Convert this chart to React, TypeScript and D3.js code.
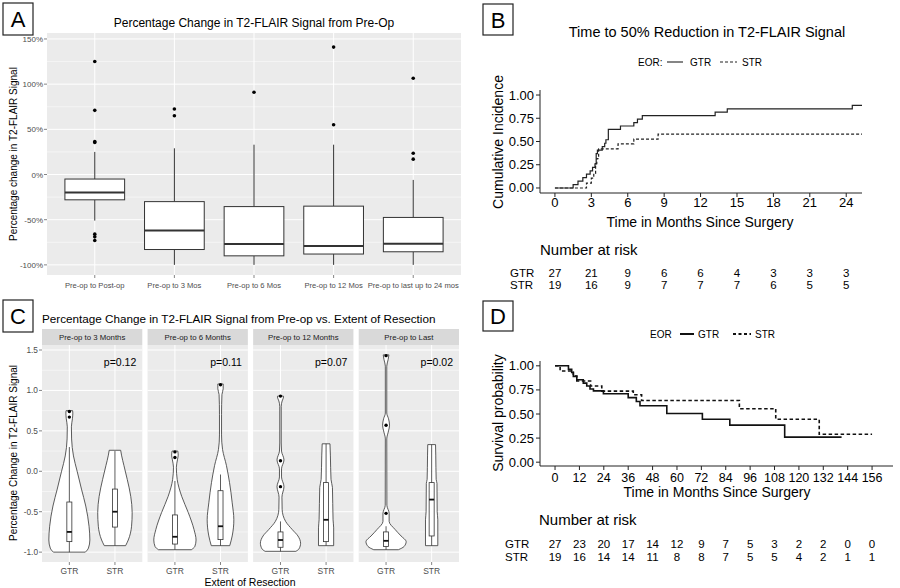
import React from 'react';
import * as d3 from 'd3';

const FONT = '"Liberation Sans", Arial, sans-serif';

// ---- Panel A: boxplots of % change
const catsA = ['Pre-op to Post-op', 'Pre-op to 3 Mos', 'Pre-op to 6 Mos', 'Pre-op to 12 Mos', 'Pre-op to last up to 24 mos'];
const loA = [-51, -100, -100, -100, -100];
const q1A = [-28, -83, -90, -88, -85.5];
const medA = [-20, -62, -77, -79, -76.5];
const q3A = [-5, -30, -35.5, -35, -47.5];
const hiA = [25, 29, 33, 33, -6];
const outA = [[125, 71, 36.5, 35.5, -66, -69, -73], [72.5, 65], [91], [141, 55], [106.5, 23.5, 17]];
const ticksA = [-100, -50, 0, 50, 100, 150];
const minorA = [-75, -25, 25, 75, 125];

// ---- Panel B: cumulative incidence
const gtrTimeB = [0, 1.5, 1.9, 2.3, 2.6, 2.9, 3.1, 3.3, 3.4, 3.5, 3.9, 4.1, 4.2, 4.4, 5.4, 6.5, 6.8, 7.2, 13.2, 14.2, 24.5, 25.3];
const gtrCifB = [0, 0.037, 0.074, 0.111, 0.148, 0.185, 0.222, 0.259, 0.37, 0.407, 0.444, 0.481, 0.519, 0.63, 0.667, 0.704, 0.741, 0.778, 0.815, 0.852, 0.889, 0.889];
const strTimeB = [0, 2.6, 3.0, 3.2, 3.35, 3.45, 3.6, 5.2, 6.5, 8.5, 25.3];
const strCifB = [0, 0.053, 0.105, 0.158, 0.263, 0.316, 0.421, 0.474, 0.526, 0.579, 0.579];
const ticksBx = [0, 3, 6, 9, 12, 15, 18, 21, 24];
const ticksBy = [0, 0.25, 0.5, 0.75, 1];
const riskGtrB = [27, 21, 9, 6, 6, 4, 3, 3, 3];
const riskStrB = [19, 16, 9, 7, 7, 7, 6, 5, 5];

// ---- Panel C: violins by extent of resection
const facetsC = ['Pre-op to 3 Months', 'Pre-op to 6 Months', 'Pre-op to 12 Months', 'Pre-op to Last'];
const groupsC = ['GTR', 'STR'];
const pValsC = ['p=0.12', 'p=0.11', 'p=0.07', 'p=0.02'];
// [value, relative density]
const violinC = [
  [
    [[-1.0, 0.78], [-0.95, 0.93], [-0.85, 1.0], [-0.68, 0.96], [-0.43, 0.8], [-0.22, 0.59], [0.0, 0.38], [0.19, 0.2], [0.4, 0.11], [0.55, 0.1], [0.65, 0.15], [0.72, 0.17], [0.75, 0.16]],
    [[-0.92, 0.52], [-0.85, 0.65], [-0.68, 0.81], [-0.51, 0.84], [-0.31, 0.77], [-0.1, 0.6], [0.07, 0.44], [0.2, 0.32], [0.26, 0.28]],
  ],
  [
    [[-0.97, 0.8], [-0.93, 0.97], [-0.85, 1.03], [-0.72, 0.93], [-0.51, 0.65], [-0.31, 0.33], [-0.1, 0.11], [0.05, 0.07], [0.15, 0.13], [0.2, 0.16], [0.25, 0.14]],
    [[-0.92, 0.45], [-0.8, 0.57], [-0.6, 0.65], [-0.39, 0.57], [-0.14, 0.44], [0.07, 0.29], [0.27, 0.1], [0.45, 0.05], [0.7, 0.05], [0.95, 0.07], [1.02, 0.13], [1.08, 0.13]],
  ],
  [
    [[-0.99, 0.75], [-0.96, 0.9], [-0.89, 0.98], [-0.8, 0.85], [-0.72, 0.57], [-0.62, 0.25], [-0.47, 0.08], [-0.32, 0.07], [-0.19, 0.17], [-0.07, 0.05], [0.03, 0.05], [0.14, 0.17], [0.25, 0.05], [0.35, 0.035], [0.8, 0.035], [0.87, 0.08], [0.92, 0.15], [0.93, 0.14]],
    [[-0.92, 0.37], [-0.7, 0.37], [-0.6, 0.34], [-0.2, 0.31], [-0.1, 0.24], [0.2, 0.21], [0.34, 0.19]],
  ],
  [
    [[-0.97, 0.6], [-0.93, 0.88], [-0.87, 0.98], [-0.8, 0.73], [-0.72, 0.44], [-0.62, 0.15], [-0.52, 0.15], [-0.42, 0.04], [0.4, 0.035], [0.5, 0.12], [0.57, 0.17], [0.65, 0.12], [0.72, 0.035], [1.3, 0.035], [1.38, 0.1], [1.44, 0.14]],
    [[-0.92, 0.3], [-0.6, 0.3], [-0.5, 0.27], [-0.15, 0.26], [-0.1, 0.22], [0.2, 0.2], [0.33, 0.19]],
  ],
];
const loC = [[-1.0, -0.92], [-0.97, -0.92], [-0.99, -0.92], [-0.97, -0.92]];
const q1C = [[-0.87, -0.69], [-0.9, -0.845], [-0.94, -0.87], [-0.93, -0.8]];
const medC = [[-0.75, -0.5], [-0.81, -0.68], [-0.85, -0.6], [-0.86, -0.35]];
const q3C = [[-0.38, -0.22], [-0.54, -0.24], [-0.75, -0.14], [-0.75, -0.14]];
const hiC = [[0.3, 0.25], [-0.12, -0.04], [-0.62, 0.34], [-0.68, 0.33]];
const outC = [[[0.74, 0.67], []], [[0.24, 0.17], [1.07]], [[0.93, 0.13, -0.19], []], [[1.43, 0.57, -0.52], []]];
const ticksC = [-1.0, -0.5, 0.0, 0.5, 1.0, 1.5];
const minorC = [-0.75, -0.25, 0.25, 0.75, 1.25];

// ---- Panel D: overall survival
const gtrTimeD = [0, 6.6, 8.2, 9.0, 10.7, 13.9, 15.6, 17.2, 18.9, 23.8, 36, 40, 41.8, 55, 72.5, 86, 113, 141];
const gtrSurvD = [1, 0.963, 0.93, 0.89, 0.856, 0.82, 0.79, 0.76, 0.74, 0.71, 0.67, 0.63, 0.585, 0.505, 0.445, 0.385, 0.26, 0.26];
const strTimeD = [0, 2.5, 9.0, 10.7, 17.5, 23, 38.5, 42.6, 90.7, 108.6, 130, 156];
const strSurvD = [1, 0.947, 0.895, 0.842, 0.79, 0.737, 0.7, 0.64, 0.555, 0.445, 0.29, 0.29];
const ticksDx = [0, 12, 24, 36, 48, 60, 72, 84, 96, 108, 120, 132, 144, 156];
const ticksDy = [0, 0.25, 0.5, 0.75, 1];
const riskGtrD = [27, 23, 20, 17, 14, 12, 9, 7, 5, 3, 2, 2, 0, 0];
const riskStrD = [19, 16, 14, 14, 11, 8, 8, 7, 5, 5, 4, 2, 1, 1];

const LabelBox = ({ x, y, w, h, t }: { x: number; y: number; w: number; h: number; t: string }) => (
  <g>
    <rect x={x} y={y} width={w} height={h} fill="#fff" stroke="#222" strokeWidth={1.2} />
    <text x={x + w / 2} y={y + h / 2 + 8} textAnchor="middle" fontSize={22}>{t}</text>
  </g>
);

const PanelA = () => {
  const x = d3.scalePoint().domain(catsA).range([47, 461]).padding(0.6);
  const y = d3.scaleLinear().domain([-111.2, 156.6]).range([275, 33]);
  const hw = x.step() * 0.375;
  return (
    <g>
      <rect x={47} y={33} width={414} height={242} fill="#EBEBEB" />
      {minorA.map((t) => <line key={'m' + t} x1={47} x2={461} y1={y(t)} y2={y(t)} stroke="#fff" strokeWidth={0.5} />)}
      {ticksA.map((t) => <line key={'g' + t} x1={47} x2={461} y1={y(t)} y2={y(t)} stroke="#fff" strokeWidth={1} />)}
      {catsA.map((c) => <line key={'v' + c} x1={x(c)} x2={x(c)} y1={33} y2={275} stroke="#fff" strokeWidth={1} />)}
      {catsA.map((c, i) => {
        const cx = x(c) as number;
        return (
          <g key={c} stroke="#333" fill="none">
            <line x1={cx} x2={cx} y1={y(hiA[i])} y2={y(q3A[i])} strokeWidth={1} />
            <line x1={cx} x2={cx} y1={y(q1A[i])} y2={y(loA[i])} strokeWidth={1} />
            <rect x={cx - hw} y={y(q3A[i])} width={hw * 2} height={y(q1A[i]) - y(q3A[i])} fill="#fff" strokeWidth={1} />
            <line x1={cx - hw} x2={cx + hw} y1={y(medA[i])} y2={y(medA[i])} strokeWidth={2} />
            {outA[i].map((o, j) => <circle key={j} cx={cx} cy={y(o)} r={1.8} fill="#000" stroke="none" />)}
          </g>
        );
      })}
      {ticksA.map((t) => (
        <g key={'t' + t}>
          <line x1={44} x2={47} y1={y(t)} y2={y(t)} stroke="#333" strokeWidth={0.6} />
          <text x={43} y={y(t) + 3} textAnchor="end" fontSize={8} fill="#4D4D4D">{t + '%'}</text>
        </g>
      ))}
      {catsA.map((c) => (
        <g key={'x' + c}>
          <line x1={x(c)} x2={x(c)} y1={275} y2={278} stroke="#333" strokeWidth={0.6} />
          <text x={x(c)} y={288} textAnchor="middle" fontSize={7.6} fill="#4D4D4D">{c}</text>
        </g>
      ))}
      <text transform="translate(17,154) rotate(-90)" textAnchor="middle" fontSize={10}>Percentage change in T2-FLAIR Signal</text>
      <text x={254} y={27} textAnchor="middle" fontSize={12}>Percentage Change in T2-FLAIR Signal from Pre-Op</text>
    </g>
  );
};

const PanelB = () => {
  const x = d3.scaleLinear().domain([-1.23, 25.3]).range([540, 862]);
  const y = d3.scaleLinear().domain([-0.054, 1.054]).range([193, 90]);
  const line = d3.line<number>().curve(d3.curveStepAfter);
  const gtr = line(gtrTimeB.map((t, i) => [x(t), y(gtrCifB[i])]) as any);
  const str = line(strTimeB.map((t, i) => [x(t), y(strCifB[i])]) as any);
  return (
    <g>
      <text x={707} y={37} textAnchor="middle" fontSize={14.5}>Time to 50% Reduction in T2-FLAIR Signal</text>
      <text x={638} y={66} fontSize={10}>EOR:</text>
      <line x1={667} x2={683} y1={62} y2={62} stroke="#222" strokeWidth={1.1} />
      <text x={690} y={66} fontSize={10}>GTR</text>
      <line x1={720} x2={737} y1={62} y2={62} stroke="#222" strokeWidth={1.1} strokeDasharray="3,2" />
      <text x={742} y={66} fontSize={10}>STR</text>
      <path d={str as string} fill="none" stroke="#222" strokeWidth={1.2} strokeDasharray="3,2" />
      <path d={gtr as string} fill="none" stroke="#222" strokeWidth={1.2} />
      <line x1={540} x2={862} y1={193} y2={193} stroke="#222" strokeWidth={1} />
      <line x1={540} x2={540} y1={90} y2={193} stroke="#222" strokeWidth={1} />
      {ticksBx.map((t) => (
        <g key={t}>
          <line x1={x(t)} x2={x(t)} y1={193} y2={197} stroke="#222" />
          <text x={x(t)} y={207} textAnchor="middle" fontSize={13}>{t}</text>
        </g>
      ))}
      {ticksBy.map((t) => (
        <g key={t}>
          <line x1={536} x2={540} y1={y(t)} y2={y(t)} stroke="#222" />
          <text x={534} y={y(t) + 4.5} textAnchor="end" fontSize={13}>{t.toFixed(2)}</text>
        </g>
      ))}
      <text x={700} y={227} textAnchor="middle" fontSize={14}>Time in Months Since Surgery</text>
      <text transform="translate(503,142) rotate(-90)" textAnchor="middle" fontSize={14}>Cumulative Incidence</text>
      <text x={540} y={255} fontSize={15}>Number at risk</text>
      <text x={510} y={277} fontSize={11.5}>GTR</text>
      <text x={510} y={289} fontSize={11.5}>STR</text>
      {ticksBx.map((t, i) => (
        <g key={'r' + t}>
          <text x={x(t)} y={277} textAnchor="middle" fontSize={11.5}>{riskGtrB[i]}</text>
          <text x={x(t)} y={289} textAnchor="middle" fontSize={11.5}>{riskStrB[i]}</text>
        </g>
      ))}
    </g>
  );
};

const PanelC = () => {
  const fx = d3.scaleBand().domain(facetsC).range([42, 459]).paddingInner(0.05);
  const gx = d3.scalePoint().domain(groupsC).range([0, fx.bandwidth()]).padding(0.6);
  const y = d3.scaleLinear().domain([-1.122, 1.562]).range([562, 345]);
  const w = d3.scaleLinear().domain([0, 1]).range([0, gx.step() * 0.45]);
  const bw = gx.step() * 0.055;
  return (
    <g>
      <text x={42} y={323} fontSize={11.7}>Percentage Change in T2-FLAIR Signal from Pre-op vs. Extent of Resection</text>
      {facetsC.map((f, fi) => {
        const x0 = fx(f) as number;
        const bwid = fx.bandwidth();
        return (
          <g key={f}>
            <rect x={x0} y={329} width={bwid} height={16} fill="#D9D9D9" />
            <text x={x0 + bwid / 2} y={340} textAnchor="middle" fontSize={7.8} fill="#1A1A1A">{f}</text>
            <rect x={x0} y={345} width={bwid} height={217} fill="#EBEBEB" />
            {minorC.map((t) => <line key={'m' + t} x1={x0} x2={x0 + bwid} y1={y(t)} y2={y(t)} stroke="#fff" strokeWidth={0.5} />)}
            {ticksC.map((t) => <line key={'g' + t} x1={x0} x2={x0 + bwid} y1={y(t)} y2={y(t)} stroke="#fff" strokeWidth={1} />)}
            {groupsC.map((g) => <line key={'v' + g} x1={x0 + (gx(g) as number)} x2={x0 + (gx(g) as number)} y1={345} y2={562} stroke="#fff" strokeWidth={1} />)}
            {groupsC.map((g, gi) => {
              const cx = x0 + (gx(g) as number);
              const area = d3.area<number[]>()
                .y((d) => y(d[0]))
                .x0((d) => cx - w(d[1]))
                .x1((d) => cx + w(d[1]))
                .curve(d3.curveMonotoneY);
              return (
                <g key={g} stroke="#333" fill="none">
                  <path d={area(violinC[fi][gi]) as string} fill="#fff" strokeWidth={0.8} />
                  <line x1={cx} x2={cx} y1={y(hiC[fi][gi])} y2={y(loC[fi][gi])} strokeWidth={0.8} />
                  <rect x={cx - bw} y={y(q3C[fi][gi])} width={bw * 2} height={y(q1C[fi][gi]) - y(q3C[fi][gi])} fill="#fff" strokeWidth={0.8} />
                  <line x1={cx - bw} x2={cx + bw} y1={y(medC[fi][gi])} y2={y(medC[fi][gi])} strokeWidth={1.8} stroke="#111" />
                  {outC[fi][gi].map((o, j) => <circle key={j} cx={cx} cy={y(o)} r={1.7} fill="#000" stroke="none" />)}
                  <line x1={cx} x2={cx} y1={562} y2={565} strokeWidth={0.6} />
                  <text x={cx} y={574} textAnchor="middle" fontSize={8.5} fill="#4D4D4D" stroke="none">{g}</text>
                </g>
              );
            })}
            <text x={x0 + bwid - 6} y={366} textAnchor="end" fontSize={10.5}>{pValsC[fi]}</text>
          </g>
        );
      })}
      {ticksC.map((t) => (
        <g key={'t' + t}>
          <line x1={39} x2={42} y1={y(t)} y2={y(t)} stroke="#333" strokeWidth={0.6} />
          <text x={38} y={y(t) + 3} textAnchor="end" fontSize={8.3} fill="#4D4D4D">{t.toFixed(1)}</text>
        </g>
      ))}
      <text transform="translate(17,453) rotate(-90)" textAnchor="middle" fontSize={10}>Percentage Change in T2-FLAIR Signal</text>
      <text x={250} y={586} textAnchor="middle" fontSize={10.5}>Extent of Resection</text>
    </g>
  );
};

const PanelD = () => {
  const x = d3.scaleLinear().domain([-7.4, 166.3]).range([540, 893]);
  const y = d3.scaleLinear().domain([-0.05, 1.05]).range([467, 361]);
  const line = d3.line<number>().curve(d3.curveStepAfter);
  const gtr = line(gtrTimeD.map((t, i) => [x(t), y(gtrSurvD[i])]) as any);
  const str = line(strTimeD.map((t, i) => [x(t), y(strSurvD[i])]) as any);
  return (
    <g>
      <text x={650} y={338} fontSize={10}>EOR</text>
      <line x1={680} x2={694} y1={334} y2={334} stroke="#111" strokeWidth={2} />
      <text x={698} y={338} fontSize={10}>GTR</text>
      <line x1={733} x2={751} y1={334} y2={334} stroke="#111" strokeWidth={2} strokeDasharray="3,2.5" />
      <text x={755} y={338} fontSize={10}>STR</text>
      <path d={str as string} fill="none" stroke="#111" strokeWidth={1.6} strokeDasharray="3.5,2.5" />
      <path d={gtr as string} fill="none" stroke="#111" strokeWidth={1.6} />
      <line x1={540} x2={893} y1={466} y2={466} stroke="#222" strokeWidth={1} />
      <line x1={540} x2={540} y1={361} y2={466} stroke="#222" strokeWidth={1} />
      {ticksDx.map((t) => (
        <g key={t}>
          <line x1={x(t)} x2={x(t)} y1={466} y2={470} stroke="#222" />
          <text x={x(t)} y={482} textAnchor="middle" fontSize={12.5}>{t}</text>
        </g>
      ))}
      {ticksDy.map((t) => (
        <g key={t}>
          <line x1={536} x2={540} y1={y(t)} y2={y(t)} stroke="#222" />
          <text x={534} y={y(t) + 4.5} textAnchor="end" fontSize={13}>{t.toFixed(2)}</text>
        </g>
      ))}
      <text x={717} y={497} textAnchor="middle" fontSize={14}>Time in Months Since Surgery</text>
      <text transform="translate(503,413) rotate(-90)" textAnchor="middle" fontSize={14}>Survival probability</text>
      <text x={539} y={525} fontSize={15}>Number at risk</text>
      <text x={505} y={548} fontSize={11.5}>GTR</text>
      <text x={505} y={560.5} fontSize={11.5}>STR</text>
      {ticksDx.map((t, i) => (
        <g key={'r' + t}>
          <text x={x(t)} y={548} textAnchor="middle" fontSize={11.5}>{riskGtrD[i]}</text>
          <text x={x(t)} y={560.5} textAnchor="middle" fontSize={11.5}>{riskStrD[i]}</text>
        </g>
      ))}
    </g>
  );
};

export default function App() {
  return (
    <svg width={900} height={588} fontFamily={FONT} style={{ position: 'absolute', left: 0, top: 0, background: '#fff' }}>
      <rect width={900} height={588} fill="#fff" />
      <PanelA />
      <PanelB />
      <PanelC />
      <PanelD />
      <LabelBox x={3} y={3} w={30} h={32} t="A" />
      <LabelBox x={483} y={4} w={30} h={31} t="B" />
      <LabelBox x={3} y={300} w={30} h={32} t="C" />
      <LabelBox x={483} y={301} w={30} h={30} t="D" />
    </svg>
  );
}
